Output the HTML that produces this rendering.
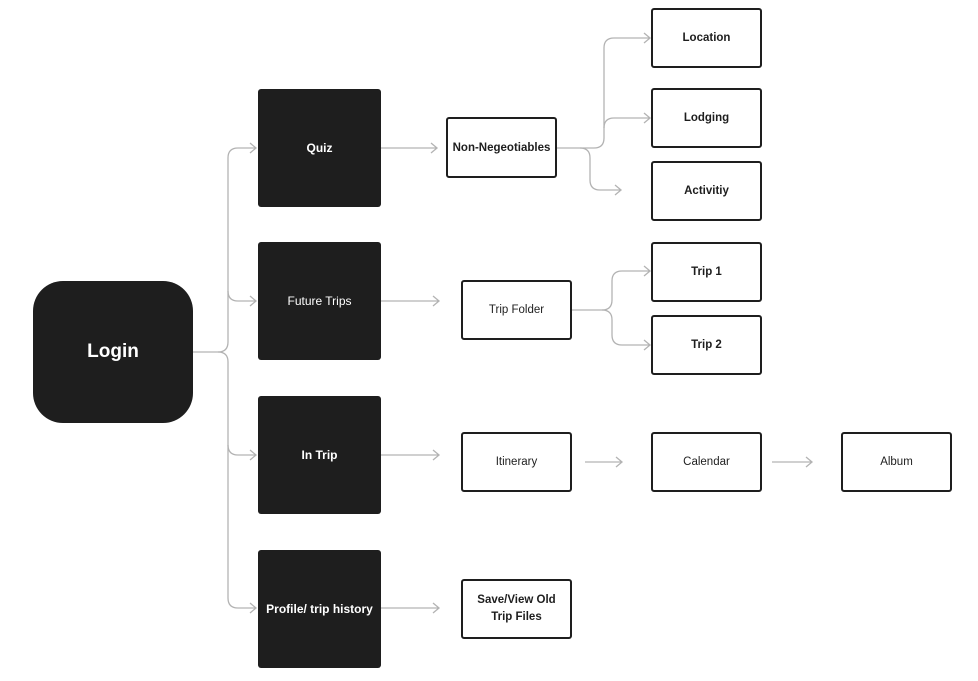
<!DOCTYPE html>
<html><head><style>
body{margin:0;width:978px;height:681px;background:#fff;font-family:"Liberation Sans",sans-serif;position:relative;overflow:hidden}
.b{position:absolute;display:flex;align-items:center;justify-content:center;text-align:center;box-sizing:border-box}
.k{background:#1e1e1e;color:#fff;border-radius:3px;font-size:12px;font-weight:bold}
.w{border:2px solid #1e1e1e;border-radius:3px;font-size:11.5px;color:#1e1e1e;background:#fff}
svg{position:absolute;left:0;top:0}
</style></head><body>
<svg width="978" height="681" fill="none" stroke="#b3b3b3" stroke-width="1.3">
<path d="M193 352 H218 Q228 352 228 342 V158 Q228 148 238 148 H256"/>
<path d="M228 291 Q228 301 238 301 H256"/>
<path d="M218 352 Q228 352 228 362 V445 Q228 455 238 455 H256"/>
<path d="M228 445 V598 Q228 608 238 608 H256"/>
<path d="M250 143 L256 148 L250 153 M250 296 L256 301 L250 306 M250 450 L256 455 L250 460 M250 603 L256 608 L250 613"/>
<path d="M381 148 H437 M431 143 L437 148 L431 153"/>
<path d="M381 301 H439 M433 296 L439 301 L433 306"/>
<path d="M381 455 H439 M433 450 L439 455 L433 460"/>
<path d="M381 608 H439 M433 603 L439 608 L433 613"/>
<path d="M557 148 H594 Q604 148 604 138 V48 Q604 38 614 38 H650 M644 33 L650 38 L644 43"/>
<path d="M604 128 Q604 118 614 118 H650 M644 113 L650 118 L644 123"/>
<path d="M580 148 Q590 148 590 158 V180 Q590 190 600 190 H621 M615 185 L621 190 L615 195"/>
<path d="M572 310 H602 Q612 310 612 300 V281 Q612 271 622 271 H650 M644 266 L650 271 L644 276"/>
<path d="M602 310 Q612 310 612 320 V335 Q612 345 622 345 H650 M644 340 L650 345 L644 350"/>
<path d="M585 462 H622 M616 457 L622 462 L616 467"/>
<path d="M772 462 H812 M806 457 L812 462 L806 467"/>
</svg>
<div class="b k" style="left:33px;top:281px;width:160px;height:142px;border-radius:30px;font-size:19px">Login</div>
<div class="b k" style="left:258px;top:89px;width:123px;height:118px">Quiz</div>
<div class="b k" style="left:258px;top:242px;width:123px;height:118px;font-weight:normal">Future Trips</div>
<div class="b k" style="left:258px;top:396px;width:123px;height:118px">In Trip</div>
<div class="b k" style="left:258px;top:550px;width:123px;height:118px">Profile/ trip history</div>
<div class="b w" style="left:446px;top:117px;width:111px;height:61px;font-weight:bold">Non-Negeotiables</div>
<div class="b w" style="left:651px;top:8px;width:111px;height:60px;font-weight:bold">Location</div>
<div class="b w" style="left:651px;top:88px;width:111px;height:60px;font-weight:bold">Lodging</div>
<div class="b w" style="left:651px;top:161px;width:111px;height:60px;font-weight:bold">Activitiy</div>
<div class="b w" style="left:461px;top:280px;width:111px;height:60px">Trip Folder</div>
<div class="b w" style="left:651px;top:242px;width:111px;height:60px;font-weight:bold">Trip 1</div>
<div class="b w" style="left:651px;top:315px;width:111px;height:60px;font-weight:bold">Trip 2</div>
<div class="b w" style="left:461px;top:432px;width:111px;height:60px">Itinerary</div>
<div class="b w" style="left:651px;top:432px;width:111px;height:60px">Calendar</div>
<div class="b w" style="left:841px;top:432px;width:111px;height:60px">Album</div>
<div class="b w" style="left:461px;top:579px;width:111px;height:60px;font-weight:bold;line-height:17px">Save/View Old<br>Trip Files</div>
</body></html>
